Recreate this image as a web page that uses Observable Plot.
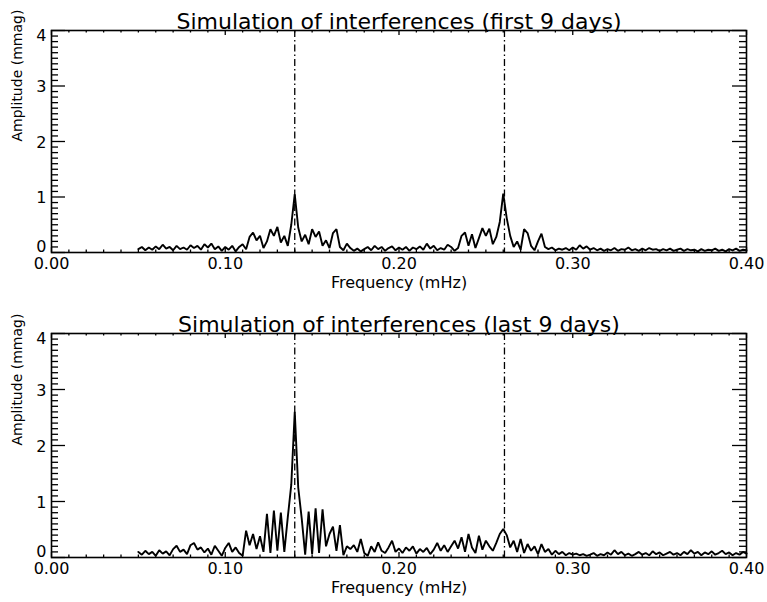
<!DOCTYPE html>
<html><head><meta charset="utf-8">
<script src="https://cdn.jsdelivr.net/npm/d3@7"></script>
<script src="https://cdn.jsdelivr.net/npm/@observablehq/plot@0.6"></script>
<style>body{margin:0;background:#fff;} #chart svg{display:block}</style>
</head><body><div id="chart"></div>
<script>
// Frequency grid of the amplitude spectra (mHz)
const freqStart = 0.05;
const freqStep = 0.002;

// Amplitude (mmag), first 9 days
const ampFirst = [
  0.06,0.10,0.04,0.09,0.05,0.11,0.06,0.14,0.07,0.10,
  0.04,0.12,0.06,0.09,0.05,0.13,0.08,0.12,0.05,0.15,
  0.09,0.16,0.06,0.11,0.03,0.10,0.05,0.12,0.02,0.10,
  0.15,0.06,0.28,0.36,0.22,0.30,0.08,0.20,0.42,0.30,
  0.46,0.18,0.30,0.12,0.50,1.05,0.45,0.20,0.32,0.15,
  0.42,0.28,0.38,0.12,0.22,0.08,0.35,0.42,0.10,0.04,
  0.16,0.08,0.03,0.07,0.02,0.06,0.10,0.04,0.12,0.06,
  0.10,0.03,0.08,0.11,0.04,0.09,0.05,0.10,0.03,0.09,
  0.06,0.11,0.05,0.16,0.07,0.12,0.04,0.08,0.05,0.14,
  0.10,0.03,0.08,0.30,0.36,0.12,0.33,0.08,0.26,0.44,
  0.30,0.43,0.15,0.28,0.55,1.06,0.62,0.30,0.10,0.20,
  0.05,0.42,0.35,0.12,0.04,0.20,0.34,0.10,0.06,0.09,
  0.04,0.07,0.05,0.08,0.04,0.09,0.05,0.13,0.07,0.11,
  0.05,0.08,0.04,0.07,0.03,0.06,0.04,0.08,0.03,0.06,
  0.05,0.09,0.04,0.06,0.03,0.07,0.04,0.08,0.05,0.06,
  0.03,0.06,0.04,0.07,0.03,0.05,0.07,0.03,0.06,0.04,
  0.05,0.02,0.06,0.03,0.05,0.04,0.07,0.03,0.05,0.02,
  0.06,0.04,0.07,0.03,0.05,0.04
];

// Amplitude (mmag), last 9 days
const ampLast = [
  0.10,0.05,0.12,0.06,0.10,0.03,0.13,0.07,0.11,0.04,
  0.15,0.21,0.10,0.14,0.06,0.22,0.26,0.14,0.18,0.09,
  0.16,0.05,0.21,0.12,0.03,0.17,0.26,0.10,0.18,0.08,
  0.03,0.48,0.22,0.42,0.15,0.38,0.10,0.78,0.08,0.84,
  0.12,0.80,0.10,0.72,1.30,2.60,1.25,0.70,0.05,0.82,
  0.06,0.88,0.08,0.86,0.20,0.42,0.55,0.12,0.58,0.04,
  0.20,0.15,0.22,0.10,0.33,0.08,0.03,0.20,0.10,0.27,
  0.12,0.08,0.18,0.30,0.10,0.16,0.08,0.18,0.12,0.20,
  0.07,0.15,0.10,0.17,0.06,0.14,0.26,0.12,0.22,0.10,
  0.20,0.30,0.16,0.36,0.10,0.42,0.18,0.08,0.39,0.14,
  0.30,0.20,0.12,0.26,0.42,0.51,0.40,0.18,0.30,0.10,
  0.33,0.08,0.24,0.12,0.20,0.06,0.24,0.10,0.15,0.05,
  0.12,0.06,0.10,0.04,0.08,0.05,0.07,0.04,0.06,0.03,
  0.05,0.08,0.03,0.06,0.04,0.09,0.05,0.13,0.06,0.10,
  0.04,0.07,0.03,0.06,0.10,0.05,0.08,0.04,0.11,0.06,
  0.09,0.04,0.07,0.10,0.05,0.08,0.04,0.10,0.06,0.13,
  0.07,0.10,0.04,0.09,0.06,0.11,0.05,0.08,0.12,0.06,
  0.09,0.04,0.08,0.05,0.10,0.07
];

// Interference frequencies marked with dash-dot lines (mHz)
const markerFreqs = [0.14, 0.2607];

// Axes
const xMajorTicks = [0, 0.1, 0.2, 0.3, 0.4];
const xTickLabels = ["0.00", "0.10", "0.20", "0.30", "0.40"];
const yMajorTicks = [0, 1, 2, 3, 4];
const yTickLabels = ["0", "1", "2", "3", "4"];
const xLabel = "Frequency (mHz)";
const yLabel = "Amplitude (mmag)";
const titles = [
  "Simulation of interferences (first 9 days)",
  "Simulation of interferences (last 9 days)"
];

const xMinorTicks = d3.range(0, 41).map(i => i / 100).filter((d, i) => i % 10 !== 0);
const yMinorTicks = d3.range(0, 41).map(i => i / 10).filter((d, i) => i % 10 !== 0);

function panel(amps, title, height, marginTop, marginBottom) {
  const W = 767, ml = 51, mr = 21;
  const fw = W - ml - mr;
  const fh = height - marginTop - marginBottom;
  const data = amps.map((a, i) => ({f: freqStart + i * freqStep, a}));
  const tk = {stroke: "black", strokeWidth: 1.3};
  const yLab = (idx, dy) => Plot.text([yMajorTicks[idx]], {y: d => d, text: () => yTickLabels[idx], frameAnchor: "left", dx: -5, dy, textAnchor: "end", fontSize: 16});
  return Plot.plot({
    width: W, height, marginTop, marginBottom, marginLeft: ml, marginRight: mr,
    x: {domain: [0, 0.4], axis: null},
    y: {domain: [0, 4], axis: null},
    style: {fontFamily: "DejaVu Sans", color: "black", background: "white", overflow: "visible"},
    marks: [
      // x ticks (inward), bottom & top
      Plot.tickX(xMajorTicks, {x: d => d, insetTop: fh - 5, ...tk}),
      Plot.tickX(xMajorTicks, {x: d => d, insetBottom: fh - 5, ...tk}),
      Plot.tickX(xMinorTicks, {x: d => d, insetTop: fh - 2.5, ...tk}),
      Plot.tickX(xMinorTicks, {x: d => d, insetBottom: fh - 2.5, ...tk}),
      // y ticks (inward), left & right
      Plot.tickY(yMajorTicks, {y: d => d, insetRight: fw - 14, ...tk}),
      Plot.tickY(yMajorTicks, {y: d => d, insetLeft: fw - 14, ...tk}),
      Plot.tickY(yMinorTicks, {y: d => d, insetRight: fw - 7, ...tk}),
      Plot.tickY(yMinorTicks, {y: d => d, insetLeft: fw - 7, ...tk}),
      // interference markers
      Plot.ruleX(markerFreqs, {x: d => d, stroke: "black", strokeWidth: 1.3, strokeDasharray: "7,3,1.5,3"}),
      // spectrum
      Plot.line(data, {x: "f", y: "a", stroke: "black", strokeWidth: 1.9, strokeLinejoin: "miter"}),
      Plot.frame({stroke: "black", strokeWidth: 1.6}),
      // tick labels
      Plot.text(xMajorTicks, {x: d => d, text: (d, i) => xTickLabels[i], frameAnchor: "bottom", dy: 16.5, fontSize: 16}),
      yLab(0, -6), yLab(1, 1), yLab(2, 1), yLab(3, 1), yLab(4, 5),
      // axis titles
      Plot.text([xLabel], {text: d => d, frameAnchor: "bottom", dy: 35.5, fontSize: 16}),
      Plot.text([yLabel], {text: d => d, frameAnchor: "left", dx: -34, rotate: -90, fontSize: 14}),
      // panel title
      Plot.text([title], {text: d => d, frameAnchor: "top", dy: -17, fontSize: 22})
    ]
  });
}

const root = document.getElementById("chart");
root.append(panel(ampFirst, titles[0], 300, 30, 48));
root.append(panel(ampLast, titles[1], 302, 33, 45));
</script>
</body></html>
